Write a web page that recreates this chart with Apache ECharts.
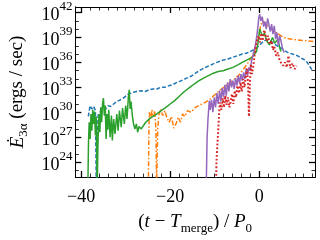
<!DOCTYPE html>
<html><head><meta charset="utf-8">
<script src="https://cdn.jsdelivr.net/npm/echarts@6/dist/echarts.min.js"></script>
<style>html,body{margin:0;padding:0;background:#fff}#c{width:320px;height:240px}</style>
</head><body><div id="c"></div>
<script>
// x: (t - T_merge)/P0 ; y: log10 of E_3alpha (ergs/sec)
const xMajorTicks = [-40, -20, 0];
const xMinorTicks = [-40,-38,-36,-34,-32,-30,-28,-26,-24,-22,-20,-18,-16,-14,-12,-10,-8,-6,-4,-2,0,2,4,6,8,10,12];
const yMajorTicks = [24, 27, 30, 33, 36, 39, 42];
const yMinorTicks = [23,24,25,26,27,28,29,30,31,32,33,34,35,36,37,38,39,40,41,42];

const blueSeries = [[-38.4,29.5],[-38.0,30.8],[-37.6,30.4],[-37.2,30.7],[-36.8,30.2],[-36.6,21],[-36.4,21],[-36.2,29.6],[-35.8,30.0],[-35.3,30.4],[-34.6,30.3],[-34.0,30.8],[-33.4,30.7],[-32.7,31.0],[-32.0,31.3],[-31.2,31.5],[-30.3,31.8],[-29.4,32.2],[-28.4,32.4],[-27.5,32.5],[-26.5,32.6],[-25.6,32.5],[-24.8,32.7],[-23.9,32.8],[-23.0,32.8],[-22.1,33.0],[-21.2,33.0],[-20.3,33.2],[-19.5,33.3],[-18.5,33.6],[-17.5,33.8],[-16.3,34.1],[-15.1,34.4],[-13.8,34.9],[-12.5,35.3],[-11.2,35.6],[-10.0,35.9],[-9.0,36.1],[-8.0,36.3],[-7.0,36.4],[-6.0,36.6],[-4.9,36.8],[-3.8,37.0],[-2.9,37.1],[-2.0,37.3],[-1.0,37.6],[0.0,38.0],[1.0,38.6],[2.0,38.7],[3.0,38.4],[4.0,38.0],[5.0,37.7],[5.7,37.4],[6.4,37.2],[7.5,37.0],[8.6,36.8],[9.5,36.5],[10.2,36.3],[10.8,36.0],[11.4,35.5],[12.0,35.0]];

const orangeSeries = [[-24.9,21],[-24.8,27],[-24.7,30.0],[-24.4,29.2],[-24.1,30.3],[-23.8,29.5],[-23.5,30.2],[-23.2,28.0],[-23.05,21],[-22.95,21],[-22.8,28.0],[-22.5,29.8],[-22.1,30.4],[-21.7,29.6],[-21.2,30.2],[-20.7,29.3],[-20.2,28.8],[-19.7,29.5],[-19.2,28.1],[-18.7,28.6],[-18.2,29.4],[-17.7,28.8],[-17.2,29.8],[-16.7,29.5],[-16.1,30.2],[-15.3,30.0],[-14.3,30.6],[-13.2,30.9],[-12.1,31.2],[-11.0,31.6],[-9.6,32.3],[-8.0,33.0],[-6.0,33.8],[-4.5,34.5],[-3.5,35.2],[-2.3,36.1],[-1.2,37.1],[-0.3,38.5],[0.3,40.3],[0.7,41.0],[1.2,40.8],[2.0,40.4],[2.8,40.0],[3.5,39.7],[4.9,39.2],[6.0,38.9],[7.0,38.8],[8.6,38.7],[10.7,38.6],[12.5,38.5]];

const greenSeries = [[-38.5,21],[-38.35,26.5],[-38.2,28.8],[-38.0,26.8],[-37.8,29.8],[-37.6,27.8],[-37.4,30.3],[-37.2,28.6],[-37.0,30.1],[-36.8,27.2],[-36.6,29.5],[-36.5,25.0],[-36.4,21],[-36.3,21],[-36.2,27.0],[-36.0,29.8],[-35.8,27.6],[-35.6,30.6],[-35.4,28.8],[-35.2,31.0],[-35.0,31.7],[-34.8,29.6],[-34.6,30.8],[-34.4,26.8],[-34.2,29.8],[-34.0,27.9],[-33.8,30.3],[-33.5,27.0],[-33.2,29.6],[-33.0,26.6],[-32.7,29.2],[-32.4,27.4],[-32.0,29.8],[-31.7,27.8],[-31.4,30.2],[-31.0,28.2],[-30.7,30.5],[-30.3,28.6],[-30.0,30.8],[-29.7,29.2],[-29.4,31.8],[-29.2,32.7],[-29.0,30.4],[-28.8,31.3],[-28.5,29.6],[-28.2,28.5],[-27.9,28.0],[-27.6,28.6],[-27.3,27.6],[-27.0,28.3],[-26.5,28.0],[-25.5,28.8],[-24.5,29.3],[-23.3,29.7],[-22.0,30.2],[-21.2,30.5],[-20.0,31.0],[-19.0,31.4],[-18.0,31.9],[-16.8,32.5],[-15.6,33.0],[-14.6,33.4],[-13.5,33.8],[-12.5,34.1],[-11.4,34.4],[-10.3,34.7],[-9.2,34.9],[-8.1,35.0],[-7.0,35.2],[-5.9,35.4],[-4.8,35.7],[-3.8,36.0],[-2.7,36.3],[-1.6,36.6],[-0.6,37.3],[-0.2,38.5],[0.1,40.0],[0.4,40.2],[0.7,39.2],[1.2,39.5],[1.7,38.6],[2.3,38.1],[3.0,39.0],[3.5,38.3],[4.2,38.8],[4.6,37.8],[4.9,37.3]];

const purpleSeries = [[-11.9,21],[-11.8,24.0],[-11.7,27.0],[-11.5,29.2],[-11.2,31.4],[-11.0,30.3],[-10.7,31.5],[-10.4,30.0],[-10.1,31.8],[-9.8,30.6],[-9.5,32.3],[-9.2,31.0],[-8.9,32.6],[-8.6,31.3],[-8.3,32.9],[-8.0,31.8],[-7.7,33.3],[-7.4,32.0],[-7.1,33.6],[-6.8,32.5],[-6.5,34.0],[-6.2,33.0],[-5.9,33.8],[-5.6,32.8],[-5.3,34.1],[-5.0,33.2],[-4.7,34.4],[-4.4,33.5],[-4.1,34.6],[-3.8,33.8],[-3.5,34.8],[-3.2,34.0],[-2.9,35.3],[-2.6,34.5],[-2.3,35.4],[-2.0,35.0],[-1.7,36.2],[-1.4,36.8],[-1.1,37.5],[-0.8,38.2],[-0.5,39.3],[-0.3,40.2],[-0.1,41.3],[0.1,41.8],[0.4,41.0],[0.7,41.5],[1.0,40.3],[1.3,40.9],[1.6,40.0],[1.9,41.3],[2.2,40.5],[2.5,39.7],[2.8,40.6],[3.1,39.4],[3.4,40.4],[3.7,38.8],[4.0,39.6],[4.3,38.0],[4.6,39.2],[4.9,38.6],[5.2,37.8],[5.6,37.2]];

const redSeries = [[-9.7,21],[-9.6,24.0],[-9.4,26.0],[-9.2,27.8],[-9.0,29.9],[-8.8,31.2],[-8.5,30.3],[-8.2,31.7],[-7.9,30.6],[-7.6,32.0],[-7.3,30.9],[-7.0,31.8],[-6.7,30.6],[-6.4,31.3],[-6.1,32.2],[-5.8,31.0],[-5.5,32.6],[-5.2,31.8],[-4.9,33.2],[-4.5,32.3],[-4.2,33.6],[-3.9,32.5],[-3.6,34.0],[-3.3,33.0],[-3.0,34.4],[-2.7,35.2],[-2.5,33.5],[-2.3,29.5],[-2.1,33.0],[-1.9,35.8],[-1.6,34.6],[-1.3,35.6],[-1.0,37.0],[-0.7,38.0],[-0.4,38.8],[-0.1,39.2],[0.2,38.4],[0.5,39.5],[0.8,38.6],[1.1,39.9],[1.4,39.4],[1.7,38.5],[2.0,39.2],[2.4,38.2],[2.8,38.6],[3.1,37.5],[3.4,37.9],[3.8,36.8],[4.2,37.2],[4.6,36.2],[5.0,36.4],[5.4,35.6],[5.8,36.0],[6.2,35.4],[6.6,36.8],[7.0,35.3],[7.5,35.9],[8.0,35.2],[8.4,35.6]];

const FONT = 'Liberation Serif';
const X_MIN = -41.3, X_MAX = 12.55, Y_MIN = 22.22, Y_MAX = 42.66;

function fmtX(v){ return v < 0 ? '\u2212' + (-v) : String(v); }

function xAx(pos, ticks, len, width, labels){
  return {
    type:'value', position:pos, min:X_MIN, max:X_MAX,
    axisLine:{show:true, onZero:false, lineStyle:{color:'#000', width:1}},
    axisTick:{show:true, inside:true, length:len, customValues:ticks, lineStyle:{color:'#000', width:width}},
    axisLabel:{show:labels, customValues:ticks, formatter:fmtX, color:'#000', fontFamily:FONT, fontSize:18, margin:11},
    splitLine:{show:false},
    name: labels ? '({i|t} \u2212 {i|T}{sub|merge}) / {i|P}{sub|0}' : '',
    nameLocation:'middle', nameGap:32,
    nameTextStyle:{color:'#000', fontFamily:FONT, fontSize:19, rich:{
      i:{fontStyle:'italic', fontFamily:FONT, fontSize:19, color:'#000'},
      sub:{fontFamily:FONT, fontSize:13, color:'#000', verticalAlign:'bottom', lineHeight:26, padding:[6,0,0,0]}
    }}
  };
}
function yAx(pos, ticks, len, width, labels){
  return {
    type:'value', position:pos, min:Y_MIN, max:Y_MAX,
    axisLine:{show:true, onZero:false, lineStyle:{color:'#000', width:1}},
    axisTick:{show:true, inside:true, length:len, customValues:ticks, lineStyle:{color:'#000', width:width}},
    axisLabel:{show:labels, customValues:ticks, margin:3,
      formatter:function(v){ return '{b|10}{s|' + v + '}'; },
      rich:{
        b:{fontFamily:FONT, fontSize:18, color:'#000', lineHeight:24, verticalAlign:'bottom'},
        s:{fontFamily:FONT, fontSize:13, color:'#000', lineHeight:14, verticalAlign:'top'}
      }},
    splitLine:{show:false},
    name: labels ? '{i|\u0116}{sub|3\u03b1} (ergs / sec)' : '',
    nameLocation:'middle', nameGap:43, nameRotate:90,
    nameTextStyle:{color:'#000', fontFamily:FONT, fontSize:19, rich:{
      i:{fontStyle:'italic', fontFamily:FONT, fontSize:19, color:'#000'},
      sub:{fontFamily:FONT, fontSize:13, color:'#000', verticalAlign:'bottom', lineHeight:26, padding:[6,0,0,0]}
    }}
  };
}

function line(data, color, type, width, z){
  return {type:'line', data:data, xAxisIndex:0, yAxisIndex:0, showSymbol:false, symbol:'none',
    clip:true, z:z, lineStyle:{color:color, width:width, type:type, cap:'butt'}};
}

const chart = echarts.init(document.getElementById('c'), null, {renderer:'canvas'});
chart.setOption({
  animation:false,
  backgroundColor:'#fff',
  grid:{left:67, top:7, right:5, bottom:47, containLabel:false},
  xAxis:[xAx('bottom', xMajorTicks, 6, 1.3, true), xAx('bottom', xMinorTicks, 3.5, 0.8, false),
         xAx('top', xMajorTicks, 6, 1.3, false), xAx('top', xMinorTicks, 3.5, 0.8, false)],
  yAxis:[yAx('left', yMajorTicks, 6, 1.3, true), yAx('left', yMinorTicks, 3.5, 0.8, false),
         yAx('right', yMajorTicks, 6, 1.3, false), yAx('right', yMinorTicks, 3.5, 0.8, false)],
  series:[
    line(blueSeries, '#1f77b4', [4,2], 1.5, 2),
    line(orangeSeries, '#ff7f0e', [5,2,1.5,2], 1.5, 3),
    line(greenSeries, '#2ca02c', 'solid', 1.5, 4),
    line(purpleSeries, '#9467bd', 'solid', 1.5, 5),
    line(redSeries, '#d62728', [1.8,2], 2, 6)
  ]
});
</script></body></html>
